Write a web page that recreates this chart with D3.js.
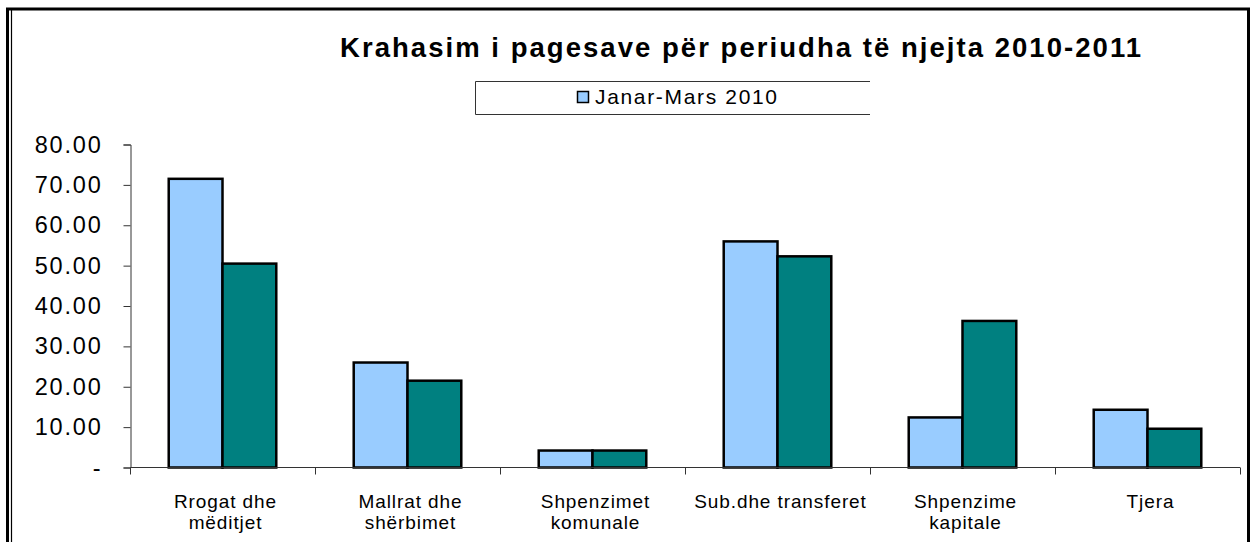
<!DOCTYPE html>
<meta charset="utf-8">
<script src="https://cdn.jsdelivr.net/npm/d3@7"></script>
<style>
body { margin: 0; background: #fff; }
text { font-family: Arial, "Liberation Sans", sans-serif; fill: #000; }
</style>
<body>
<script>

var categories = [
  ["Rrogat dhe", "mëditjet"],
  ["Mallrat dhe", "shërbimet"],
  ["Shpenzimet", "komunale"],
  ["Sub.dhe transferet"],
  ["Shpenzime", "kapitale"],
  ["Tjera"]
];
var seriesNames = ["Janar-Mars 2010", "Janar-Mars 2011"];
var values2010 = [71.5, 26.0, 4.2, 56.0, 12.4, 14.3];
var values2011 = [50.5, 21.5, 4.2, 52.3, 36.3, 9.6];
var yTicks = [0, 10, 20, 30, 40, 50, 60, 70, 80];
var colors = ["#99ccff", "#008080"];

var width = 1252, height = 542;

var svg = d3.select("body").append("svg")
    .attr("width", width)
    .attr("height", height);

// frame
svg.append("rect")
    .attr("x", 7.5).attr("y", 9)
    .attr("width", 1241).attr("height", 560)
    .attr("fill", "none").attr("stroke", "#000").attr("stroke-width", 3);
svg.append("line")
    .attr("x1", 11.5).attr("x2", 11.5).attr("y1", 10).attr("y2", 560)
    .attr("stroke", "#000").attr("stroke-width", 1.2);

// title
svg.append("text")
    .attr("x", 340).attr("y", 57)
    .attr("font-size", "27.5px").attr("font-weight", "bold")
    .attr("textLength", 801).attr("lengthAdjust", "spacing")
    .text("Krahasim i pagesave për periudha të njejta 2010-2011");

// legend (right side cut off as in the original)
svg.append("path")
    .attr("d", "M870,81.5H475.5V114.5H870")
    .attr("fill", "none").attr("stroke", "#333").attr("stroke-width", 1);
svg.append("rect")
    .attr("x", 577.5).attr("y", 91.5).attr("width", 11).attr("height", 11)
    .attr("fill", colors[0]).attr("stroke", "#000").attr("stroke-width", 1.5);
svg.append("text")
    .attr("x", 595).attr("y", 104)
    .attr("font-size", "21px")
    .attr("textLength", 182).attr("lengthAdjust", "spacing")
    .text(seriesNames[0]);

var x0 = d3.scaleBand()
    .domain(d3.range(categories.length))
    .range([130, 1240]);
var x1 = d3.scaleBand()
    .domain([0, 1])
    .range([0, x0.bandwidth()])
    .paddingOuter(0.72)
    .paddingInner(0);
var y = d3.scaleLinear()
    .domain([0, 80])
    .range([467.5, 144.5]);

// y axis
var yAxis = d3.axisLeft(y)
    .tickValues(yTicks)
    .tickSizeInner(7).tickSizeOuter(7)
    .tickPadding(21)
    .tickFormat(function(d) { return d === 0 ? "-" : d3.format(".2f")(d); });
var gy = svg.append("g")
    .attr("transform", "translate(130.5,0)")
    .call(yAxis);
gy.select(".domain").attr("stroke", "#333");
gy.selectAll(".tick line").attr("stroke", "#333");
gy.selectAll(".tick text")
    .attr("font-size", "23.5px")
    .attr("letter-spacing", "1.8px")
    .attr("font-family", "Arial, 'Liberation Sans', sans-serif")
    .attr("fill", "#000");

// bars
var groups = svg.append("g").selectAll("g")
    .data(categories)
    .enter().append("g")
    .attr("transform", function(d, i) { return "translate(" + x0(i) + ",0)"; });

groups.selectAll("rect")
    .data(function(d, i) { return [values2010[i], values2011[i]]; })
    .enter().append("rect")
    .attr("x", function(d, j) { return x1(j); })
    .attr("width", x1.bandwidth())
    .attr("y", function(d) { return y(d); })
    .attr("height", function(d) { return y(0) - y(d); })
    .attr("fill", function(d, j) { return colors[j]; })
    .attr("stroke", "#000")
    .attr("stroke-width", 2.5);

// x axis
var xAxis = d3.axisBottom(x0)
    .tickSize(0)
    .tickFormat("");
var gx = svg.append("g")
    .attr("transform", "translate(0,467.5)")
    .call(xAxis);
gx.select(".domain").attr("stroke", "#333").attr("d", "M130.5,0H1240");
gx.selectAll(".sep")
    .data(d3.range(categories.length + 1))
    .enter().append("line")
    .attr("class", "sep")
    .attr("x1", function(i) { return Math.round(130 + i * x0.step()) + 0.5; })
    .attr("x2", function(i) { return Math.round(130 + i * x0.step()) + 0.5; })
    .attr("y1", 0).attr("y2", 7)
    .attr("stroke", "#333");

// category labels
var labels = svg.append("g").selectAll("text")
    .data(categories)
    .enter().append("text")
    .attr("x", function(d, i) { return x0(i) + x0.bandwidth() / 2 + 3; })
    .attr("y", 508)
    .attr("text-anchor", "middle")
    .attr("font-size", "19px")
    .attr("letter-spacing", "0.9px");
labels.selectAll("tspan")
    .data(function(d) { return d; })
    .enter().append("tspan")
    .attr("x", function() { return d3.select(this.parentNode).attr("x"); })
    .attr("dy", function(d, k) { return k === 0 ? 0 : 21; })
    .text(function(d) { return d; });

</script>
</body>
